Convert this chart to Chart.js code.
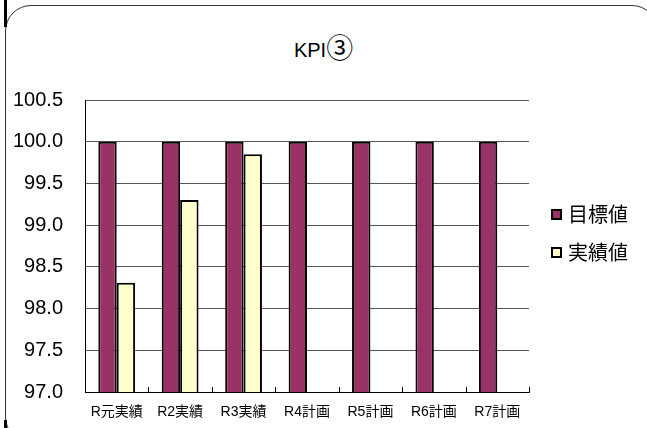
<!DOCTYPE html>
<html>
<head>
<meta charset="utf-8">
<script src="https://cdn.jsdelivr.net/npm/chart.js@4.4.0/dist/chart.umd.min.js"></script>
<style>
  html, body { margin: 0; padding: 0; background: #fff; overflow: hidden; }
  #wrap { position: relative; width: 647px; height: 428px; overflow: hidden;
          font-family: 'Liberation Sans', 'Noto Sans CJK JP', sans-serif; color: #000; }
  #frame { position: absolute; left: 5px; top: 5px; width: 651px; height: 436px;
           border: 1px solid #333; border-radius: 26px; }
  .bar { position: absolute; background: #000; width: 3px; left: 4px; }
  #title { position: absolute; left: 0; width: 647px; top: 33px; height: 28px; line-height: 28px;
           text-align: center; font-size: 20px; }
  #title span { font-family: 'Noto Sans CJK JP', sans-serif; font-size: 27px; vertical-align: -1px; }
  #legend { position: absolute; left: 551px; top: 201px; font-size: 20px; }
  #legend div { height: 38px; line-height: 28px; white-space: nowrap; }
  #legend span.box { display: inline-block; width: 7px; height: 7px; border: 2px solid #000;
                     margin-right: 6px; vertical-align: 2px; }
  canvas { position: absolute; left: 0; top: 0; }
</style>
</head>
<body>
<div id="wrap">
  <div id="frame"></div>
  <div class="bar" style="top:0;height:27px"></div>
  <div class="bar" style="top:420px;height:8px"></div>
  <div id="title">KPI<span>③</span></div>
  <canvas id="c" width="647" height="428"></canvas>
  <div id="legend"></div>
</div>
<script>
// データ
const categories = ['R元実績', 'R2実績', 'R3実績', 'R4計画', 'R5計画', 'R6計画', 'R7計画'];
const targetValues = [100.0, 100.0, 100.0, 100.0, 100.0, 100.0, 100.0];
const actualValues = [98.31, 99.30, 99.85, null, null, null, null];
const seriesNames = ['目標値', '実績値'];
const seriesColors = ['#993366', '#FFFFCC'];
const yMin = 97.0, yMax = 100.5, yStep = 0.5;

const FONT = "'Liberation Sans', 'Noto Sans CJK JP', sans-serif";

// 凡例 (HTML)
const legendEl = document.getElementById('legend');
seriesNames.forEach((name, i) => {
  const row = document.createElement('div');
  const box = document.createElement('span');
  box.className = 'box';
  box.style.background = seriesColors[i];
  row.appendChild(box);
  row.appendChild(document.createTextNode(name));
  legendEl.appendChild(row);
});

// 目盛り線 (上向き、カテゴリ境界)
const innerTicks = {
  id: 'innerTicks',
  afterDatasetsDraw(chart) {
    const x = chart.scales.x, ctx = chart.ctx;
    const bottom = chart.chartArea.bottom;
    ctx.save();
    ctx.strokeStyle = '#000';
    ctx.lineWidth = 1;
    for (let i = 0; i <= categories.length; i++) {
      const px = Math.round(x.getPixelForValue(i - 0.5)) + 0.5;
      ctx.beginPath();
      ctx.moveTo(px, bottom);
      ctx.lineTo(px, bottom - 5);
      ctx.stroke();
    }
    ctx.restore();
  }
};

new Chart(document.getElementById('c'), {
  type: 'bar',
  data: {
    labels: categories,
    datasets: [
      { label: seriesNames[0], data: targetValues, backgroundColor: seriesColors[0],
        borderColor: '#000', borderWidth: 2, borderSkipped: 'bottom' },
      { label: seriesNames[1], data: actualValues, backgroundColor: seriesColors[1],
        borderColor: '#000', borderWidth: 2, borderSkipped: 'bottom' }
    ]
  },
  options: {
    responsive: false,
    animation: false,
    devicePixelRatio: 1,
    layout: { padding: { top: 100, right: 118, left: 0, bottom: 0 } },
    datasets: { bar: { categoryPercentage: 0.58, barPercentage: 1.0 } },
    plugins: {
      legend: { display: false },
      title: { display: false },
      tooltip: { enabled: false }
    },
    scales: {
      x: {
        afterFit: s => { s.height = 36; },
        grid: { display: false, drawTicks: false },
        border: { color: '#000', width: 1 },
        ticks: { color: '#000', padding: 12, maxRotation: 0, font: { family: FONT, size: 14 } }
      },
      y: {
        min: yMin, max: yMax,
        afterFit: s => { s.width = 85; },
        grid: { color: '#555', drawTicks: false },
        border: { color: '#000', width: 1 },
        ticks: {
          stepSize: yStep, color: '#000', padding: 22,
          font: { family: FONT, size: 20 },
          callback: v => Number(v).toFixed(1)
        }
      }
    }
  },
  plugins: [innerTicks]
});
</script>
</body>
</html>
